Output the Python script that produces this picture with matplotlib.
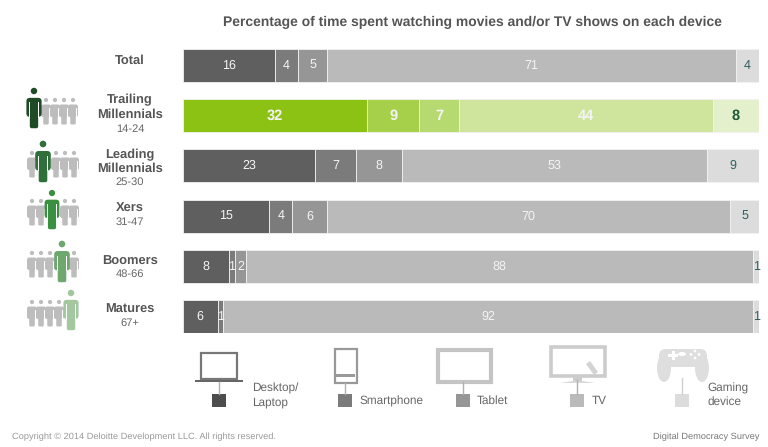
"""Time spent watching movies and TV by device and generation."""
import matplotlib

matplotlib.use("Agg")
import matplotlib.pyplot as plt
from matplotlib.patches import Circle, Ellipse, FancyBboxPatch, Polygon, Rectangle

plt.rcParams["font.family"] = ["Liberation Sans", "DejaVu Sans"]
plt.rcParams["text.hinting"] = "no_hinting"

W, H = 768, 447

TITLE = "Percentage of time spent watching movies and/or TV shows on each device"
DEVICES = ["Desktop/\nLaptop", "Smartphone", "Tablet", "TV", "Gaming\ndevice"]
GROUPS = ["Total", "Trailing\nMillennials", "Leading\nMillennials", "Xers", "Boomers", "Matures"]
AGES = ["", "14-24", "25-30", "31-47", "48-66", "67+"]

desktop = [16, 32, 23, 15, 8, 6]
smartphone = [4, 9, 7, 4, 1, 1]
tablet = [5, 7, 8, 6, 2, 0]
tv = [71, 44, 53, 70, 88, 92]
gaming = [4, 8, 9, 5, 1, 1]
series = [desktop, smartphone, tablet, tv, gaming]

GREYS = ["#5f5f5f", "#7b7b7b", "#969696", "#bababa", "#dcdcdc"]
GREENS = ["#8cc213", "#a6d04a", "#b7da70", "#cfe59d", "#e4f0cb"]
PERSON_COLORS = ["#1f4a26", "#2f6f3a", "#3a9040", "#6fa86f", "#a3c79f"]
TEXT_GREY = "#555555"

fig = plt.figure(figsize=(W / 100, H / 100), dpi=100)

# bars in their own axes, placed on the reference pixels
ax = fig.add_axes([183 / W, 1 - 333 / H, 576 / W, 284 / H])
ax.set_xlim(0, 100)
ax.set_ylim(5.33, -0.33)
ax.axis("off")

for row in range(len(GROUPS)):
    left = 0
    for s, values in enumerate(series):
        val = values[row]
        if val == 0:
            continue
        highlight = row == 1
        color = GREENS[s] if highlight else GREYS[s]
        ax.barh(row, val, left=left, height=0.66, color=color, edgecolor="#f2f2f2", linewidth=0.6)
        label_color = "#f4f4f4" if s < 4 else "#2f5f5f"
        if highlight and s == 4:
            label_color = "#1f5a3a"
        ax.text(
            left + val / 2,
            row,
            str(val),
            ha="center",
            va="center",
            color=label_color,
            fontsize=10.5 if highlight else 9,
            fontweight="bold" if highlight else "normal",
        )
        left += val

# everything else drawn in pixel coordinates
over = fig.add_axes([0, 0, 1, 1])
over.set_xlim(0, W)
over.set_ylim(H, 0)
over.axis("off")


def draw_person(x, head_y, feet_y, color):
    """Little standing figure, scaled between head centre and feet."""
    h = feet_y - head_y
    r = h * 0.085
    over.add_patch(Ellipse((x, head_y), r * 2, r * 2, color=color, lw=0))
    over.add_patch(
        FancyBboxPatch(
            (x - h * 0.11, head_y + h * 0.2),
            h * 0.22,
            h * 0.78,
            boxstyle="round,pad=0,rounding_size=%.2f" % (h * 0.05),
            color=color,
            lw=0,
        )
    )
    over.add_patch(
        FancyBboxPatch(
            (x - h * 0.2, head_y + h * 0.18),
            h * 0.4,
            h * 0.5,
            boxstyle="round,pad=0,rounding_size=%.2f" % (h * 0.09),
            color=color,
            lw=0,
        )
    )
    over.add_patch(Rectangle((x - h * 0.14, head_y + h * 0.3), h * 0.03, h * 0.4, color="white", lw=0))
    over.add_patch(Rectangle((x + h * 0.11, head_y + h * 0.3), h * 0.03, h * 0.4, color="white", lw=0))


crowds = [
    (34, [46, 55, 64, 73], 91, 129, 100, 125),
    (43, [32, 56, 65, 74], 144, 183, 153, 178),
    (52, [32, 41, 65, 74], 193, 230, 201, 226),
    (62, [32, 41, 50, 74], 244, 283, 253, 278),
    (71, [32, 41, 50, 59], 293, 331, 302, 327),
]
for (main_x, others, head, feet, g_head, g_feet), color in zip(crowds, PERSON_COLORS):
    for gx in others:
        draw_person(gx, g_head, g_feet, "#bdbdbd")
    draw_person(main_x, head, feet, color)

# row labels
name_ys = [[60.5], [99.5, 115], [154.5, 168.5], [209], [261.5], [309.5]]
age_ys = [0, 129, 182, 222, 274, 323]
for name, age, ys, age_y in zip(GROUPS, AGES, name_ys, age_ys):
    for line, y in zip(name.split("\n"), ys):
        over.text(130, y, line, ha="center", va="center", fontsize=9.3, fontweight="bold", color=TEXT_GREY)
    if age:
        over.text(130, age_y, age, ha="center", va="center", fontsize=8, color="#666666")

over.text(472, 22, TITLE, ha="center", va="center", fontsize=10, fontweight="bold", color=TEXT_GREY)

# legend stems and swatches
stems = [(219, 382), (345, 383), (463, 382), (577, 380), (682, 378)]
for (sx, sy), color in zip(stems, GREYS):
    line_color = "#b0b0b0" if color != GREYS[4] else "#d0d0d0"
    over.plot([sx, sx], [sy, 394], color=line_color, lw=1)
    over.add_patch(Rectangle((sx - 7, 394), 14, 13, color="#4d4d4d" if sx == 219 else color, lw=0))

# laptop
over.add_patch(Rectangle((200.5, 352.5), 36, 26, fill=False, ec="#777777", lw=1.6))
over.add_patch(Rectangle((195, 379.5), 48, 2.5, color="#666666", lw=0))
# smartphone
over.add_patch(Rectangle((334.5, 348.5), 22, 34, fill=False, ec="#999999", lw=1.6))
over.add_patch(Rectangle((336, 374), 19, 3, color="#999999", lw=0))
# tablet
over.add_patch(Rectangle((437.5, 349.5), 53, 32, fill=False, ec="#c4c4c4", lw=3))
# tv with remote
over.add_patch(Rectangle((550.5, 346.5), 54, 29, fill=False, ec="#cccccc", lw=2.6))
over.add_patch(Rectangle((573, 377), 9, 5, color="#cccccc", lw=0))
over.add_patch(Polygon([(560, 383), (595, 383), (582, 381), (573, 381)], color="#d8d8d8", lw=0))
over.add_patch(Polygon([(586, 364), (590, 361), (598, 372), (594, 375)], color="#d4d4d4", lw=0))
# game controller
over.add_patch(
    FancyBboxPatch((659, 349), 48, 14, boxstyle="round,pad=0,rounding_size=7", color="#dedede", lw=0)
)
over.add_patch(Ellipse((664, 368), 14, 28, color="#dedede", lw=0))
over.add_patch(Ellipse((702, 368), 14, 28, color="#dedede", lw=0))
over.add_patch(Rectangle((667, 357), 33, 10, color="#dedede", lw=0))
over.add_patch(Rectangle((668, 354), 10, 3, color="white", lw=0))
over.add_patch(Rectangle((671.5, 351), 3, 9, color="white", lw=0))
over.add_patch(Ellipse((682, 354), 8, 4, color="white", lw=0))
for bx, by in [(695, 351), (695, 358), (691, 354.5), (699, 354.5)]:
    over.add_patch(Circle((bx, by), 1.4, color="white", lw=0))

# legend text
legend_labels = [
    (252, 388, DEVICES[0].split("\n")[0]),
    (252, 402, DEVICES[0].split("\n")[1]),
    (359, 401, DEVICES[1]),
    (477, 401, DEVICES[2]),
    (592, 401, DEVICES[3]),
    (707, 388, DEVICES[4].split("\n")[0]),
    (707, 402, DEVICES[4].split("\n")[1]),
]
for lx, ly, text in legend_labels:
    over.text(lx, ly, text, ha="left", va="center", fontsize=8.5, color="#666666")

over.text(12, 436.5, "Copyright © 2014 Deloitte Development LLC. All rights reserved.",
          ha="left", va="center", fontsize=6.7, color="#999999")
over.text(759, 436.5, "Digital Democracy Survey", ha="right", va="center", fontsize=6.7, color="#777777")

fig.savefig("out.png", dpi=100)
